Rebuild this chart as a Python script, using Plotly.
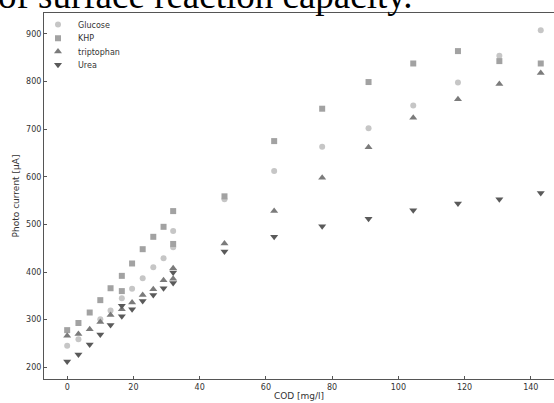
import plotly.graph_objects as go

# ---- data ----
glucose_x = [0, 3.4, 10, 13.1, 16.5, 19.6, 22.8, 26, 29.1, 32, 32, 47.5, 62.5, 77, 91, 104.5, 118, 130.5, 143]
glucose_y = [245, 259, 301, 319, 345, 365, 387, 410, 429, 452, 486, 553, 612, 663, 702, 750, 798, 854, 908]

khp_x = [0, 3.4, 6.8, 10, 13.1, 16.5, 19.6, 22.8, 26, 29.1, 32, 16.5, 32, 47.5, 62.5, 77, 91, 104.5, 118, 130.5, 143]
khp_y = [278, 293, 315, 341, 366, 392, 418, 448, 474, 495, 528, 360, 459, 559, 675, 743, 799, 838, 864, 843, 838]

trip_x = [0, 3.4, 6.8, 10, 13.1, 16.5, 19.6, 22.8, 26, 29.1, 32, 32, 47.5, 62.5, 77, 91, 104.5, 118, 130.5, 143]
trip_y = [266, 270, 280, 295, 310, 322, 336, 352, 364, 383, 386, 408, 460, 528, 598, 662, 724, 763, 795, 818]

urea_x = [0, 3.4, 6.8, 10, 13.1, 16.5, 19.6, 22.8, 26, 29.1, 32, 16.5, 32, 47.5, 62.5, 77, 91, 104.5, 118, 130.5, 143]
urea_y = [212, 227, 248, 269, 289, 307, 322, 339, 352, 366, 377, 329, 399, 443, 474, 496, 512, 530, 544, 553, 566]

series_names = ["Glucose", "KHP", "triptophan", "Urea"]
x_ticks = [0, 20, 40, 60, 80, 100, 120, 140]
y_ticks = [200, 300, 400, 500, 600, 700, 800, 900]
caption = "of surface reaction capacity."

# ---- styles ----
styles = [
    dict(symbol="circle", color="#c6c6c6", size=6),
    dict(symbol="square", color="#a2a2a2", size=6),
    dict(symbol="triangle-up", color="#7b7b7b", size=7),
    dict(symbol="triangle-down", color="#5a5a5a", size=7),
]
data = [(glucose_x, glucose_y), (khp_x, khp_y), (trip_x, trip_y), (urea_x, urea_y)]
legend_ids = ["legend", "legend2", "legend3", "legend4"]

# plot-area geometry in pixels
L, T, B = 44, 13, 379
H = B - T

fig = go.Figure()
for name, (xs, ys), st, lg in zip(series_names, data, styles, legend_ids):
    fig.add_trace(go.Scatter(
        x=xs, y=ys, mode="markers", name=name, legend=lg,
        marker=dict(symbol=st["symbol"], color=st["color"], size=st["size"], line=dict(width=0)),
    ))

axis_common = dict(
    showline=True, linecolor="#555555", linewidth=1, mirror=True,
    ticks="inside", ticklen=3, tickcolor="#555555", tickwidth=1,
    showgrid=False, zeroline=False, automargin=False,
    tickfont=dict(family="DejaVu Sans", size=8, color="#333333"),
)

legend_rows_px = [24, 37.7, 51, 64.3]
legend_layout = {}
for lg, row in zip(legend_ids, legend_rows_px):
    top = row - 14
    legend_layout[lg] = dict(
        x=(38 - L) / 510, y=(B - top) / H, xanchor="left", yanchor="top",
        bgcolor="rgba(0,0,0,0)", borderwidth=0,
        font=dict(family="DejaVu Sans", size=8, color="#333333"),
        itemwidth=30,
    )

fig.update_layout(
    width=554, height=403,
    margin=dict(l=L, r=0, t=T, b=403 - B),
    paper_bgcolor="white", plot_bgcolor="white",
    font=dict(family="DejaVu Sans", size=9, color="#333333"),
    xaxis=dict(range=[-7, 147], tickvals=x_ticks,
               title=dict(text="COD [mg/l]", standoff=2, font=dict(size=9)), **axis_common),
    yaxis=dict(range=[175.4, 944], tickvals=y_ticks,
               title=dict(text="Photo current [µA]", standoff=4, font=dict(size=9)), **axis_common),
    showlegend=True,
    annotations=[dict(
        text=caption, xref="paper", yref="paper",
        x=(-4 - L) / 510, y=(B + 4.5) / H, xanchor="left", yanchor="middle",
        showarrow=False,
        font=dict(family="Liberation Serif", size=37, color="black"),
    )],
    **legend_layout,
)

fig.write_html("out.html", config={"displayModeBar": False},
               post_script="document.body.style.margin='0';")
